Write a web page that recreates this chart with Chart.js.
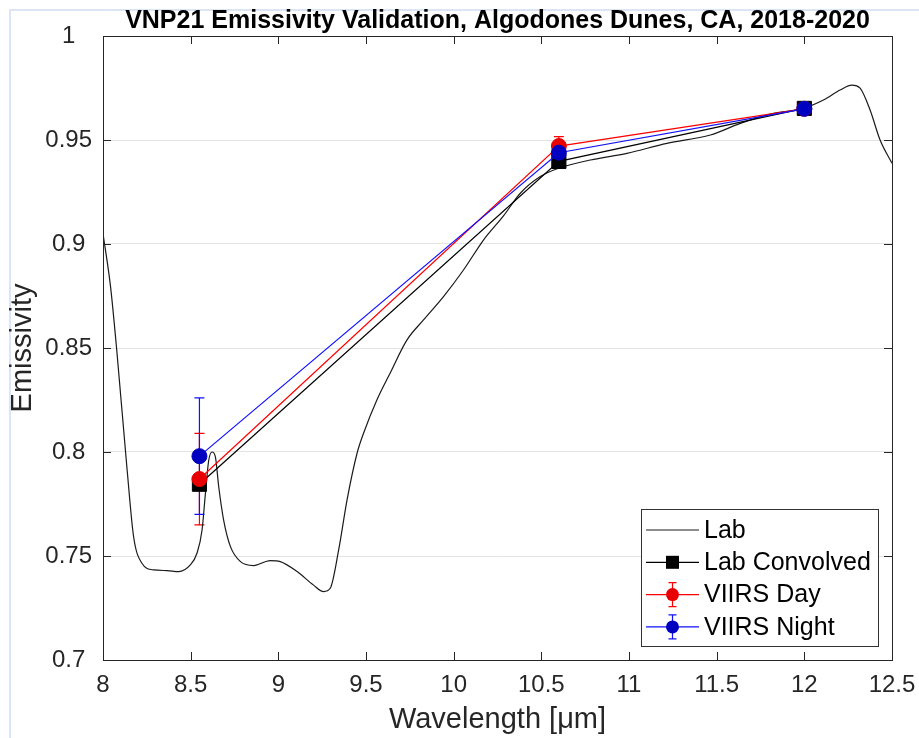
<!DOCTYPE html>
<html><head><meta charset="utf-8">
<script src="https://cdn.jsdelivr.net/npm/chart.js@4"></script>
<style>html,body{margin:0;padding:0;background:#fff;} #wrap{position:relative;width:919px;height:738px;}</style>
</head><body><div id="wrap"><canvas id="c" width="919" height="738"></canvas></div>
<script>
// ---- data ----
const labWavelength = [8.00, 8.043, 8.08, 8.138, 8.175, 8.222, 8.289, 8.365, 8.431, 8.498, 8.536, 8.565, 8.584, 8.603, 8.622, 8.641, 8.66, 8.688, 8.727, 8.784, 8.859, 8.954, 9.011, 9.107, 9.201, 9.258, 9.296, 9.344, 9.392, 9.449, 9.486, 9.562, 9.638, 9.733, 9.828, 9.942, 10.056, 10.17, 10.284, 10.38, 10.494, 10.598, 10.78, 10.988, 11.216, 11.464, 11.635, 11.825, 11.995, 12.109, 12.204, 12.271, 12.318, 12.375, 12.432, 12.5];
const labEmissivity = [0.905, 0.8795, 0.8475, 0.791, 0.759, 0.7465, 0.7433, 0.743, 0.7425, 0.7457, 0.7513, 0.7625, 0.780, 0.796, 0.800, 0.7977, 0.7833, 0.7673, 0.7545, 0.7473, 0.7454, 0.7478, 0.7473, 0.7425, 0.736, 0.7329, 0.7345, 0.7529, 0.777, 0.7994, 0.809, 0.825, 0.838, 0.8538, 0.8635, 0.8747, 0.8875, 0.9019, 0.9135, 0.9244, 0.9324, 0.9364, 0.9404, 0.9436, 0.9484, 0.9524, 0.958, 0.9628, 0.9652, 0.9692, 0.974, 0.9764, 0.9749, 0.9644, 0.95, 0.9388];
const bandWavelength = [8.55, 10.6, 12.0];
const labConvolved = [0.7845, 0.9397, 0.9652];
const viirsDay = [0.787, 0.9471, 0.9650];
const viirsDayErr = [0.022, 0.0045, 0.0015];
const viirsNight = [0.798, 0.9439, 0.9650];
const viirsNightErr = [0.028, 0.003, 0.0015];
const xTickLabels = ['8', '8.5', '9', '9.5', '10', '10.5', '11', '11.5', '12', '12.5'];
const yTickLabels = ['0.7', '0.75', '0.8', '0.85', '0.9', '0.95', '1'];
const seriesNames = ['Lab', 'Lab Convolved', 'VIIRS Day', 'VIIRS Night'];
const titleText = 'VNP21 Emissivity Validation, Algodones Dunes, CA, 2018-2020';
const xTitle = 'Wavelength [\u03BCm]';
const yTitle = 'Emissivity';

const FONT = 'Liberation Sans, Arial, Helvetica, sans-serif';
const AX = '#262626';

const pts = (xs, ys) => xs.map((x, i) => ({x: x, y: ys[i]}));

const datasets = [
  {label: seriesNames[0], data: pts(labWavelength, labEmissivity), borderColor: '#1a1a1a', borderWidth: 1.2,
   pointRadius: 0, cubicInterpolationMode: 'monotone', order: 4},
  {label: seriesNames[1], data: pts(bandWavelength, labConvolved), borderColor: '#000', backgroundColor: '#000',
   borderWidth: 1.2, pointStyle: 'rect', pointRadius: 10, pointBorderWidth: 1, order: 3},
  {label: seriesNames[2], data: pts(bandWavelength, viirsDay), borderColor: '#ff0000', backgroundColor: '#e80000',
   pointBorderColor: '#e80000', borderWidth: 1.2, pointStyle: 'circle', pointRadius: 7.5, pointBorderWidth: 1,
   order: 2, errors: viirsDayErr},
  {label: seriesNames[3], data: pts(bandWavelength, viirsNight), borderColor: '#1010ff', backgroundColor: '#0000c0',
   pointBorderColor: '#0000c0', borderWidth: 1.2, pointStyle: 'circle', pointRadius: 7.5, pointBorderWidth: 1,
   order: 1, errors: viirsNightErr}
];

const framePlugin = {
  id: 'frame',
  beforeDraw(chart) {
    const ctx = chart.ctx;
    ctx.save();
    ctx.fillStyle = '#fff';
    ctx.fillRect(0, 0, chart.width, chart.height);
    ctx.fillStyle = '#dce5f3';
    ctx.fillRect(9, 9, chart.width - 9, 2);
    ctx.fillRect(9, 9, 2, chart.height - 9);
    ctx.restore();
  }
};

const titlePlugin = {
  id: 'ctitle',
  afterDraw(chart) {
    const ctx = chart.ctx, a = chart.chartArea;
    ctx.save();
    ctx.fillStyle = '#000';
    ctx.font = 'bold 25px ' + FONT;
    ctx.textAlign = 'center';
    ctx.textBaseline = 'alphabetic';
    ctx.fillText(titleText, (a.left + a.right) / 2, a.top - 8);
    ctx.restore();
  }
};

const errorBarPlugin = {
  id: 'errbars',
  beforeDatasetsDraw(chart) {
    const ctx = chart.ctx, xs = chart.scales.x, ys = chart.scales.y;
    ctx.save();
    chart.data.datasets.forEach(ds => {
      if (!ds.errors) return;
      ctx.strokeStyle = ds.borderColor;
      ctx.lineWidth = 1.2;
      ds.data.forEach((p, i) => {
        const px = xs.getPixelForValue(p.x);
        const top = ys.getPixelForValue(p.y + ds.errors[i]);
        const bot = ys.getPixelForValue(p.y - ds.errors[i]);
        ctx.beginPath();
        ctx.moveTo(px, top); ctx.lineTo(px, bot);
        ctx.moveTo(px - 5, top); ctx.lineTo(px + 5, top);
        ctx.moveTo(px - 5, bot); ctx.lineTo(px + 5, bot);
        ctx.stroke();
      });
    });
    ctx.restore();
  }
};

const boxPlugin = {
  id: 'axbox',
  afterDatasetsDraw(chart) {
    const ctx = chart.ctx, a = chart.chartArea, xs = chart.scales.x, ys = chart.scales.y;
    const tl = 8;
    ctx.save();
    ctx.strokeStyle = AX;
    ctx.lineWidth = 1;
    ctx.beginPath();
    xs.ticks.forEach(t => {
      const px = Math.round(xs.getPixelForValue(t.value)) + 0.5;
      ctx.moveTo(px, a.bottom); ctx.lineTo(px, a.bottom - tl);
      ctx.moveTo(px, a.top); ctx.lineTo(px, a.top + tl);
    });
    ys.ticks.forEach(t => {
      const py = Math.round(ys.getPixelForValue(t.value)) + 0.5;
      ctx.moveTo(a.left, py); ctx.lineTo(a.left + tl, py);
      ctx.moveTo(a.right, py); ctx.lineTo(a.right - tl, py);
    });
    ctx.stroke();
    ctx.strokeRect(Math.round(a.left) + 0.5, Math.round(a.top) + 0.5, Math.round(a.right - a.left), Math.round(a.bottom - a.top));
    ctx.restore();
  }
};

const legendPlugin = {
  id: 'legbox',
  afterDraw(chart) {
    const ctx = chart.ctx, a = chart.chartArea;
    const bx1 = a.right - 14, by1 = a.bottom - 14;
    const bx0 = bx1 - 237, by0 = by1 - 137;
    ctx.save();
    ctx.fillStyle = '#fff';
    ctx.fillRect(bx0, by0, bx1 - bx0, by1 - by0);
    ctx.strokeStyle = '#333';
    ctx.lineWidth = 1;
    ctx.strokeRect(Math.round(bx0) + 0.5, Math.round(by0) + 0.5, Math.round(bx1 - bx0), Math.round(by1 - by0));
    chart.data.datasets.forEach((ds, i) => {
      const y = by0 + 21 + i * 32.3;
      const lx0 = bx0 + 5, lx1 = bx0 + 58, mx = (lx0 + lx1) / 2;
      ctx.strokeStyle = ds.borderColor;
      ctx.lineWidth = 1.2;
      ctx.beginPath(); ctx.moveTo(lx0, y); ctx.lineTo(lx1, y); ctx.stroke();
      if (ds.errors) {
        ctx.beginPath();
        ctx.moveTo(mx, y - 12); ctx.lineTo(mx, y + 12);
        ctx.moveTo(mx - 4, y - 12); ctx.lineTo(mx + 4, y - 12);
        ctx.moveTo(mx - 4, y + 12); ctx.lineTo(mx + 4, y + 12);
        ctx.stroke();
      }
      if (ds.pointRadius > 0) {
        ctx.fillStyle = ds.backgroundColor;
        if (ds.pointStyle === 'rect') {
          ctx.fillRect(mx - 6.5, y - 6.5, 13, 13);
        } else {
          ctx.beginPath(); ctx.arc(mx, y, 6.5, 0, Math.PI * 2); ctx.fill();
        }
      }
      ctx.fillStyle = '#000';
      ctx.font = '25px ' + FONT;
      ctx.textBaseline = 'middle';
      ctx.textAlign = 'left';
      ctx.fillText(ds.label, bx0 + 63, y + 1);
    });
    ctx.restore();
  }
};

new Chart(document.getElementById('c'), {
  type: 'line',
  data: {datasets: datasets},
  options: {
    responsive: false,
    animation: false,
    devicePixelRatio: 1,
    layout: {padding: {left: 0, right: 27, top: 36, bottom: 0}},
    plugins: {
      legend: {display: false},
      tooltip: {enabled: false},
      title: {display: false}
    },
    scales: {
      x: {
        type: 'linear', min: 8, max: 12.5,
        afterFit(s) { s.height = 78; s.paddingRight = 0; s.paddingLeft = 0; },
        ticks: {stepSize: 0.5, autoSkip: false, maxRotation: 0, padding: 11, color: AX,
          font: {family: FONT, size: 24},
          callback: (v, i) => xTickLabels[i]},
        grid: {display: false, drawTicks: false},
        border: {display: false},
        title: {display: true, text: xTitle, color: AX, font: {family: FONT, size: 29}, padding: {top: 0, bottom: 1}}
      },
      y: {
        type: 'linear', min: 0.7, max: 1,
        afterFit(s) { s.width = 103; s.paddingTop = 0; s.paddingBottom = 0; },
        ticks: {stepSize: 0.05, padding: 11, crossAlign: 'center', color: AX,
          font: {family: FONT, size: 24},
          callback: (v, i) => yTickLabels[i]},
        grid: {color: '#e4e4e4', lineWidth: 1, drawTicks: false},
        border: {display: false},
        title: {display: true, text: yTitle, color: AX, font: {family: FONT, size: 29}, padding: {top: 6, bottom: 0}}
      }
    }
  },
  plugins: [framePlugin, titlePlugin, errorBarPlugin, boxPlugin, legendPlugin]
});
</script>
</body></html>
